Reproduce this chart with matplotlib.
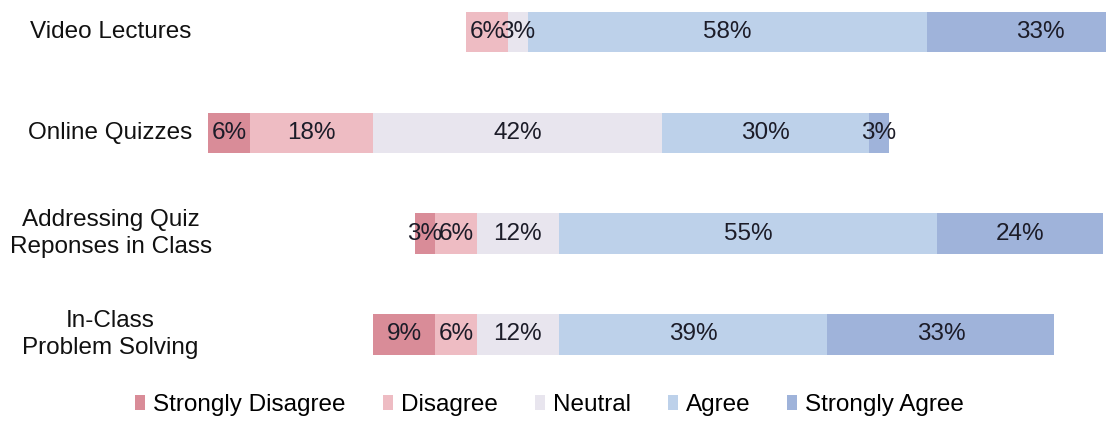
"""Diverging stacked bar chart of student survey responses (Likert scale)."""
import matplotlib
matplotlib.use("Agg")
import matplotlib.pyplot as plt
import numpy as np

plt.rcParams["font.family"] = ["Liberation Sans", "DejaVu Sans"]

categories = ["Video Lectures", "Online Quizzes",
              "Addressing Quiz\nReponses in Class", "In-Class\nProblem Solving"]
levels = ["Strongly Disagree", "Disagree", "Neutral", "Agree", "Strongly Agree"]
strongly_disagree = [0, 6, 3, 9]
disagree = [6, 18, 6, 6]
neutral = [3, 42, 12, 12]
agree = [58, 30, 55, 39]
strongly_agree = [33, 3, 24, 33]
colors = ["#d98c98", "#eebcc3", "#e8e5ee", "#bdd1ea", "#9fb3da"]

FS = 17.5
series = np.array([strongly_disagree, disagree, neutral, agree, strongly_agree], dtype=float)
n_cat = len(categories)
y = np.arange(n_cat)

fig = plt.figure(figsize=(11.06, 4.24), dpi=100)
ax = fig.add_axes([0, 0, 1, 1])

# centre each bar on the middle of its neutral segment
left = -(series[0] + series[1] + series[2] / 2)
for vals, col, name in zip(series, colors, levels):
    ax.barh(y, vals, left=left, height=0.40, color=col, edgecolor="none", label=name)
    for yi, (l, v) in enumerate(zip(left, vals)):
        if v > 0:
            ax.text(l + v / 2, yi, f"{v:.0f}%", ha="center", va="center",
                    fontsize=FS, color="#1c1c28")
    left = left + vals

# category labels, centred in the left margin
for yi, cat in enumerate(categories):
    ax.text(0.10, yi, cat, transform=ax.get_yaxis_transform(), ha="center",
            va="center", multialignment="center", fontsize=FS, color="#111111",
            linespacing=1.3)

ax.set_xlim(-75.3, 85.5)
ax.set_ylim(3.889, -0.317)
ax.axis("off")

ax.legend(loc="center", bbox_to_anchor=(0.497, 0.045), ncol=5, frameon=False,
          fontsize=FS, handlelength=0.41, handleheight=0.55, handletextpad=0.33,
          columnspacing=1.52, borderaxespad=0, borderpad=0)

fig.savefig("out.png", dpi=100)
